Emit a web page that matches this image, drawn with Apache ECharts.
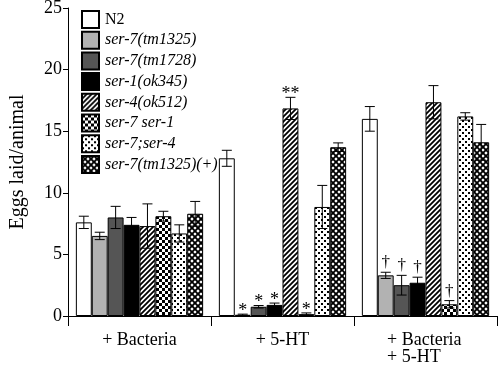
<!DOCTYPE html>
<html><head><meta charset="utf-8">
<script src="https://cdn.jsdelivr.net/npm/echarts@6/dist/echarts.min.js"></script>
<style>html,body{margin:0;padding:0;background:#fff}#c{width:498px;height:366px}</style>
</head><body><div id="c"></div>
<script>
var categories = ['+ Bacteria', '+ 5-HT', '+ Bacteria\n+ 5-HT'];
var seriesNames = ['N2', 'ser-7(tm1325)', 'ser-7(tm1728)', 'ser-1(ok345)', 'ser-4(ok512)', 'ser-7 ser-1', 'ser-7;ser-4', 'ser-7(tm1325)(+)'];
var yTicks = [0, 5, 10, 15, 20, 25];
// values per series: [+Bacteria, +5-HT, +Bacteria +5-HT]
var vN2       = [7.6, 12.8, 16.0];
var vTm1325   = [6.5, 0.1, 3.3];
var vTm1728   = [8.0, 0.75, 2.5];
var vSer1     = [7.4, 0.9, 2.7];
var vSer4     = [7.3, 16.85, 17.35];
var vSer7Ser1 = [8.1, 0.15, 0.95];
var vSer7Ser4 = [6.7, 8.85, 16.2];
var vRescue   = [8.3, 13.7, 14.1];
// standard errors
var eN2       = [0.5, 0.65, 1.0];
var eTm1325   = [0.3, 0.05, 0.25];
var eTm1728   = [0.9, 0.1, 0.8];
var eSer1     = [0.6, 0.15, 0.45];
var eSer4     = [1.8, 0.9, 1.35];
var eSer7Ser1 = [0.4, 0.1, 0.3];
var eSer7Ser4 = [0.7, 1.75, 0.3];
var eRescue   = [1.0, 0.35, 1.45];
// significance marks
var mN2       = ['', '', ''];
var mTm1325   = ['', '*', '\u2020'];
var mTm1728   = ['', '*', '\u2020'];
var mSer1     = ['', '*', '\u2020'];
var mSer4     = ['', '**', ''];
var mSer7Ser1 = ['', '*', '\u2020'];
var mSer7Ser4 = ['', '', ''];
var mRescue   = ['', '', ''];

var values = [vN2, vTm1325, vTm1728, vSer1, vSer4, vSer7Ser1, vSer7Ser4, vRescue];
var errors = [eN2, eTm1325, eTm1728, eSer1, eSer4, eSer7Ser1, eSer7Ser4, eRescue];
var marks  = [mN2, mTm1325, mTm1728, mSer1, mSer4, mSer7Ser1, mSer7Ser4, mRescue];

var SERIF = '"Liberation Serif", "Times New Roman", serif';
function tile(w, h, draw) {
  var c = document.createElement('canvas'); c.width = w; c.height = h;
  var g = c.getContext('2d'); draw(g); return {image: c, repeat: 'repeat'};
}
var fills = [
  '#ffffff',
  '#b2b2b2',
  '#555555',
  '#000000',
  tile(5, 5, function (g) {
    g.fillStyle = '#fff'; g.fillRect(0, 0, 5, 5);
    g.strokeStyle = '#000'; g.lineWidth = 1.8;
    g.beginPath(); g.moveTo(-1, 6); g.lineTo(6, -1);
    g.moveTo(-1, 1); g.lineTo(1, -1); g.moveTo(4, 6); g.lineTo(6, 4); g.stroke();
  }),
  tile(6, 6, function (g) {
    g.fillStyle = '#fff'; g.fillRect(0, 0, 6, 6);
    g.fillStyle = '#000'; g.fillRect(0, 0, 3, 3); g.fillRect(3, 3, 3, 3);
  }),
  tile(6, 6, function (g) {
    g.fillStyle = '#fff'; g.fillRect(0, 0, 6, 6);
    g.fillStyle = '#000'; g.fillRect(0, 0, 2, 2); g.fillRect(3, 3, 2, 2);
  }),
  tile(6, 6, function (g) {
    g.fillStyle = '#fff'; g.fillRect(0, 0, 6, 6);
    g.strokeStyle = '#000'; g.lineWidth = 1.9;
    g.beginPath();
    g.moveTo(-1, 7); g.lineTo(7, -1); g.moveTo(-1, 1); g.lineTo(1, -1); g.moveTo(5, 7); g.lineTo(7, 5);
    g.moveTo(-1, -1); g.lineTo(7, 7); g.moveTo(-1, 5); g.lineTo(1, 7); g.moveTo(5, -1); g.lineTo(7, 1);
    g.stroke();
  })
];

var GAP = 0.11;
var series = seriesNames.map(function (n, i) {
  return {
    name: n, type: 'bar', data: values[i], barGap: 0, barCategoryGap: (GAP * 100) + '%',
    itemStyle: {color: fills[i], borderColor: '#000', borderWidth: 1}
  };
});
var errData = [];
values.forEach(function (arr, s) {
  arr.forEach(function (v, c) { errData.push([c, s, v, errors[s][c], marks[s][c]]); });
});
series.push({
  type: 'custom', data: errData, z: 5, silent: true,
  renderItem: function (params, api) {
    var c = api.value(0), s = api.value(1), v = api.value(2), e = api.value(3);
    var mk = errData[params.dataIndex][4];
    var bandW = api.size([1, 0])[0];
    var bw = bandW * (1 - GAP) / 8;
    var center = api.coord([c, v]);
    var x = center[0] + (s - 3.5) * bw;
    var yTop = api.coord([c, v + e])[1];
    var yBot = api.coord([c, Math.max(0, v - e)])[1];
    var cap = 5;
    var kids = [
      {type: 'line', shape: {x1: x, y1: yTop, x2: x, y2: yBot}, style: {stroke: '#000', lineWidth: 1}},
      {type: 'line', shape: {x1: x - cap, y1: yTop, x2: x + cap, y2: yTop}, style: {stroke: '#000', lineWidth: 1}},
      {type: 'line', shape: {x1: x - cap, y1: yBot, x2: x + cap, y2: yBot}, style: {stroke: '#000', lineWidth: 1}}
    ];
    if (mk) {
      var dag = mk === '\u2020';
      kids.push({type: 'text', style: {
        text: mk, x: x, y: yTop - (dag ? 1 : -6), align: 'center', verticalAlign: 'bottom',
        font: (dag ? '17px ' : '18px ') + SERIF, fill: '#000'
      }});
    }
    return {type: 'group', children: kids};
  }
});

var legendData = seriesNames.map(function (n, i) {
  return i === 0 ? {name: n, textStyle: {fontStyle: 'normal'}} : {name: n};
});

var chart = echarts.init(document.getElementById('c'), null, {renderer: 'canvas'});
chart.setOption({
  animation: false,
  backgroundColor: '#fff',
  grid: {left: 68, right: 1, top: 8, bottom: 50, containLabel: false, outerBoundsMode: 'none'},
  legend: {
    data: legendData, orient: 'vertical', left: 76, top: 5,
    itemWidth: 17, itemHeight: 17, itemGap: 1.7, icon: 'rect',
    textStyle: {fontFamily: SERIF, fontSize: 16, lineHeight: 17, fontStyle: 'italic', color: '#000', padding: [0, 0, 0, 1]}
  },
  xAxis: {
    type: 'category', data: categories,
    axisLine: {lineStyle: {color: '#000', width: 1}},
    axisTick: {show: true, length: 10, lineStyle: {color: '#000'}},
    axisLabel: {
      color: '#000', fontFamily: SERIF, fontSize: 18, margin: 16, lineHeight: 17,
      formatter: function (v) {
        if (v.indexOf('\n') < 0) return v;
        return v.split('\n').map(function (s) { return '{l|' + s + '}'; }).join('\n');
      },
      rich: {l: {width: 77, align: 'left', fontSize: 18, lineHeight: 17, fontFamily: SERIF, color: '#000'}}
    }
  },
  yAxis: {
    type: 'value', min: 0, max: 25, interval: 5,
    name: 'Eggs laid/animal', nameLocation: 'middle', nameGap: 40,
    nameTextStyle: {color: '#000', fontFamily: SERIF, fontSize: 20},
    axisLine: {show: true, lineStyle: {color: '#000'}},
    axisTick: {show: true, length: 5, lineStyle: {color: '#000'}},
    axisLabel: {color: '#000', fontFamily: SERIF, fontSize: 18, margin: 6,
      formatter: function (v) { return yTicks.indexOf(v) >= 0 ? String(v) : ''; }},
    splitLine: {show: false}
  },
  series: series
});
</script></body></html>
